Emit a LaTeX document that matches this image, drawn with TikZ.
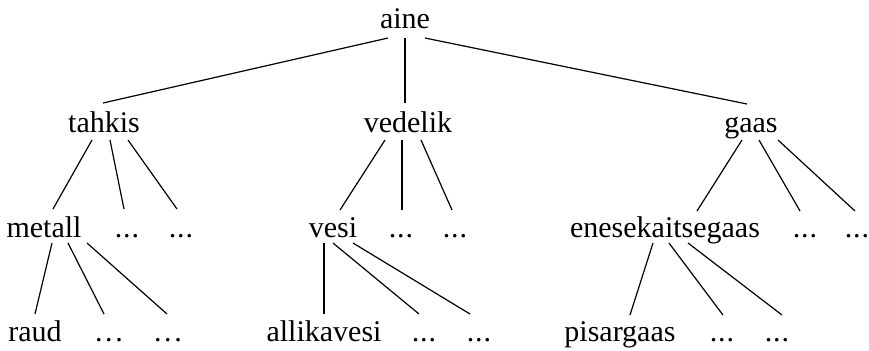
\documentclass[tikz,border=0pt]{standalone}
\usepackage{fontspec}
\setmainfont{Liberation Serif}
\usetikzlibrary{calc}
\newcommand\dotsnarrow{.\kern0.03em.\kern0.03em.}
\newcommand\dotswide{.\kern0.09em.\kern0.09em.}
\newcommand\treeedge[6]{\draw[edge] ($(#1.base)+(#2,#3)$) -- ($(#4.base)+(#5,#6)$);}
\begin{document}
\begin{tikzpicture}[x=0.5pt,y=-0.5pt,
  lbl/.style={anchor=base, inner sep=0pt, font=\fontsize{15pt}{18pt}\selectfont},
  edge/.style={line width=0.6pt, black}]
\useasboundingbox (0,0) rectangle (869,350);
% level 0
\node[lbl] (aine) at (405,28) {aine};
% level 1
\node[lbl] (tahkis) at (104,132) {tahkis};
\node[lbl] (vedelik) at (408,132) {vedelik};
\node[lbl] (gaas) at (751,132) {gaas};
% level 2
\node[lbl] (metall) at (44,237) {metall};
\node[lbl] (t1) at (127,237) {\dotsnarrow};
\node[lbl] (t2) at (181,237) {\dotsnarrow};
\node[lbl] (vesi) at (333,237) {vesi};
\node[lbl] (v1) at (401,237) {\dotsnarrow};
\node[lbl] (v2) at (455,237) {\dotsnarrow};
\node[lbl] (enese) at (665,237) {enesekaitsegaas};
\node[lbl] (g1) at (805,237) {\dotsnarrow};
\node[lbl] (g2) at (857,237) {\dotsnarrow};
% level 3
\node[lbl] (raud) at (35,341) {raud};
\node[lbl] (m1) at (109,341) {\dotswide};
\node[lbl] (m2) at (168,341) {\dotswide};
\node[lbl] (allikavesi) at (324,341) {allikavesi};
\node[lbl] (w1) at (424,341) {\dotsnarrow};
\node[lbl] (w2) at (479,341) {\dotsnarrow};
\node[lbl] (pisargaas) at (620,341) {pisargaas};
\node[lbl] (e1) at (722,341) {\dotsnarrow};
\node[lbl] (e2) at (777,341) {\dotsnarrow};
% edges level 0-1
\treeedge{aine}{-17}{10}{tahkis}{-1}{-29}
\treeedge{aine}{0}{10}{vedelik}{-3}{-29}
\treeedge{aine}{20}{10}{gaas}{-4}{-28}
% edges level 1-2
\treeedge{tahkis}{-12}{8}{metall}{9}{-28}
\treeedge{tahkis}{6}{8}{t1}{-3}{-28}
\treeedge{tahkis}{24}{8}{t2}{-4}{-28}
\treeedge{vedelik}{-23}{8}{vesi}{7}{-27}
\treeedge{vedelik}{-6}{8}{v1}{1}{-27}
\treeedge{vedelik}{13}{8}{v2}{-3}{-27}
\treeedge{gaas}{-9}{8}{enese}{32}{-26}
\treeedge{gaas}{8}{8}{g1}{-5}{-26}
\treeedge{gaas}{27}{8}{g2}{-2}{-26}
% edges level 2-3
\treeedge{metall}{8}{6}{raud}{0}{-27}
\treeedge{metall}{24}{6}{m1}{-5}{-27}
\treeedge{metall}{43}{6}{m2}{-1}{-27}
\treeedge{vesi}{-9}{6}{allikavesi}{0}{-27}
\treeedge{vesi}{0}{6}{w1}{-5}{-27}
\treeedge{vesi}{20}{6}{w2}{-9}{-27}
\treeedge{enese}{-12}{6}{pisargaas}{10}{-26}
\treeedge{enese}{4}{6}{e1}{1}{-26}
\treeedge{enese}{23}{6}{e2}{5}{-26}
\end{tikzpicture}
\end{document}
